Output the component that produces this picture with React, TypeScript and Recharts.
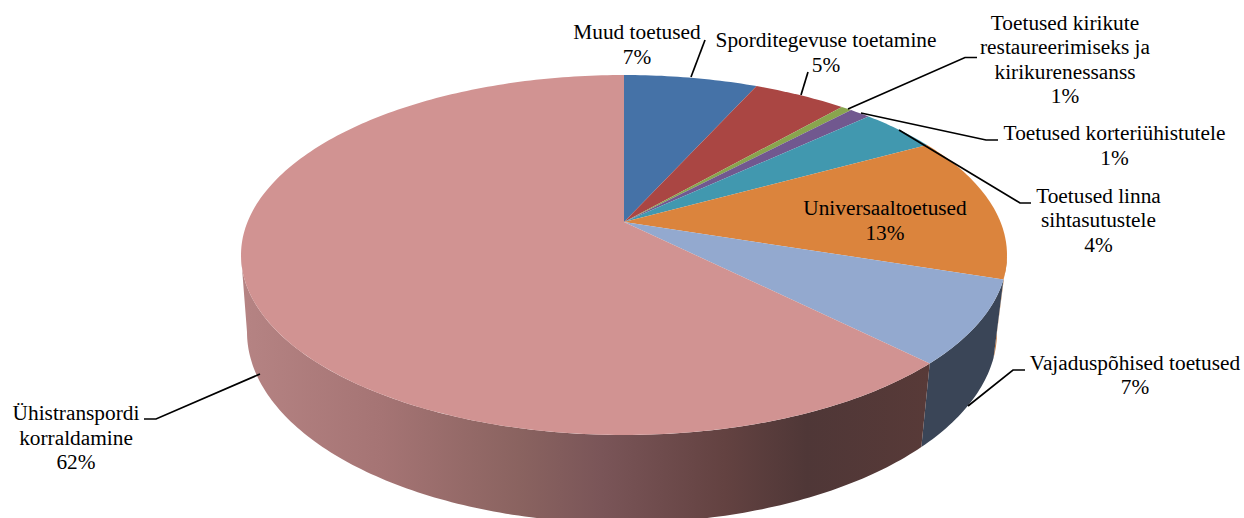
import React from "react";
import { PieChart, Pie } from "recharts";

const categories = [
  "Muud toetused",
  "Sporditegevuse toetamine",
  "Toetused kirikute restaureerimiseks ja kirikurenessanss",
  "Toetused korteriühistutele",
  "Toetused linna sihtasutustele",
  "Universaaltoetused",
  "Vajaduspõhised toetused",
  "Ühistranspordi korraldamine",
];
const shares = [6.74, 4.7, 0.55, 1.05, 3.96, 13.04, 7.47, 62.49];
const topColors = ["#4572A7", "#AA4643", "#89A54E", "#71588F", "#4198AF", "#DB843D", "#93A9CF", "#D19392"];
const sideColors = ["#2b4768", "#6a2c2a", "#566831", "#463759", "#285f6d", "#c2763a", "#3a4557", "url(#sideGradient)"];

const labelLines: string[][] = [
  ["Muud toetused"],
  ["Sporditegevuse toetamine"],
  ["Toetused kirikute", "restaureerimiseks ja", "kirikurenessanss"],
  ["Toetused korteriühistutele"],
  ["Toetused linna", "sihtasutustele"],
  ["Universaaltoetused"],
  ["Vajaduspõhised toetused"],
  ["Ühistranspordi", "korraldamine"],
];

const labelAnchors = [
  { x: 637, y: 39 },
  { x: 826, y: 47 },
  { x: 1065, y: 29.5 },
  { x: 1114.5, y: 140 },
  { x: 1098.5, y: 202.5 },
  { x: 885, y: 215 },
  { x: 1135, y: 369.5 },
  { x: 76, y: 420 },
];
const leaders: ([number, number][] | null)[] = [
  [[691, 77], [705, 40]],
  [[801, 95], [808, 72]],
  [[848, 109], [965, 57.5], [977, 57.5]],
  [[861, 113], [986, 140], [998, 140]],
  [[899, 130], [1020, 203], [1031, 203]],
  null,
  [[968, 406], [1013, 370], [1025, 370]],
  [[260, 374], [156, 419], [144, 419]],
];

const W = 1244;
const H = 518;
const FONT = "'Liberation Serif', 'Times New Roman', serif";
const FONT_SIZE = 21.33;
const P = 0.1833;
const VSCALE = 173.95;
const TOP = { cx: 624, cy: 255, rx: 383, ry: 180 };
const BOTTOM = { cx: 622, cy: 332, rx: 375, ry: 191 };

const topRows = categories.map((name, i) => ({ name, value: shares[i], fill: topColors[i] }));
const sideRows = categories.map((name, i) => ({ name, value: shares[i], fill: sideColors[i] }));

function project(p: any, theta: number): [number, number] {
  const rad = (theta * Math.PI) / 180;
  const u = Math.sin(rad);
  const v = -Math.cos(rad);
  const d = 1 - P * v;
  return [p.cx + (p.outerRadius * u) / d, p.cy + (VSCALE * v) / d];
}

function TopSlice(p: any) {
  const a = 90 - p.startAngle;
  const b = 90 - p.endAngle;
  const steps = Math.max(4, Math.ceil(Math.abs(b - a)));
  let d = `M${p.cx},${p.cy}`;
  for (let i = 0; i <= steps; i++) {
    const [x, y] = project(p, a + ((b - a) * i) / steps);
    d += `L${x.toFixed(2)},${y.toFixed(2)}`;
  }
  return <path d={d + "Z"} fill={p.fill} stroke="none" />;
}

function phiOf(p: any, theta: number) {
  if (theta >= 359.99) return (3 * Math.PI) / 2;
  const [x, y] = project(p, theta);
  let f = Math.atan2((y - TOP.cy) / TOP.ry, (x - TOP.cx) / TOP.rx) + Math.PI / 2;
  f = ((f % (2 * Math.PI)) + 2 * Math.PI) % (2 * Math.PI);
  return f - Math.PI / 2;
}

function SideSlice(p: any) {
  const lo = Math.max(phiOf(p, 90 - p.startAngle), 0);
  const hi = Math.min(phiOf(p, 90 - p.endAngle), Math.PI);
  if (hi <= lo) return null;
  const steps = Math.max(6, Math.ceil(((hi - lo) * 180) / Math.PI));
  const pts: string[] = [];
  for (let i = 0; i <= steps; i++) {
    const f = lo + ((hi - lo) * i) / steps;
    pts.push(`${(TOP.cx + TOP.rx * Math.cos(f)).toFixed(2)},${(TOP.cy + TOP.ry * Math.sin(f)).toFixed(2)}`);
  }
  for (let i = steps; i >= 0; i--) {
    const f = lo + ((hi - lo) * i) / steps;
    pts.push(`${(BOTTOM.cx + BOTTOM.rx * Math.cos(f)).toFixed(2)},${(BOTTOM.cy + BOTTOM.ry * Math.sin(f)).toFixed(2)}`);
  }
  return <polygon points={pts.join(" ")} fill={p.fill} stroke="none" />;
}

function renderLabel(p: any) {
  const i = p.index;
  const at = labelAnchors[i];
  const lines = [...labelLines[i], `${Math.round(shares[i])}%`];
  return (
    <text key={i} x={at.x} y={at.y} textAnchor="middle" fontFamily={FONT} fontSize={FONT_SIZE} fill="#000">
      {lines.map((t, k) => (
        <tspan key={k} x={at.x} y={at.y + k * 24.6}>
          {t}
        </tspan>
      ))}
    </text>
  );
}

function renderLeader(p: any) {
  const pts = leaders[p.index];
  if (!pts) return <g key={p.index} />;
  return (
    <polyline
      key={p.index}
      points={pts.map((q) => q.join(",")).join(" ")}
      fill="none"
      stroke="#000"
      strokeWidth={1.7}
    />
  );
}

export default function App() {
  return (
    <div style={{ position: "absolute", left: 0, top: 0, width: W, height: H, overflow: "hidden", background: "#fff" }}>
      <PieChart width={W} height={H} margin={{ top: 0, right: 0, bottom: 0, left: 0 }}>
        <defs>
          <linearGradient id="sideGradient" gradientUnits="userSpaceOnUse" x1={245} y1={0} x2={930} y2={0}>
            <stop offset="0" stopColor="#b58383" />
            <stop offset="0.2" stopColor="#a57474" />
            <stop offset="0.4" stopColor="#8a6360" />
            <stop offset="0.52" stopColor="#7a5558" />
            <stop offset="0.7" stopColor="#634241" />
            <stop offset="0.82" stopColor="#4f3737" />
            <stop offset="1" stopColor="#583a38" />
          </linearGradient>
        </defs>
        <Pie
          data={sideRows}
          dataKey="value"
          nameKey="name"
          cx={624}
          cy={222}
          outerRadius={376.5}
          startAngle={90}
          endAngle={-270}
          stroke="none"
          isAnimationActive={false}
          shape={SideSlice}
          label={false}
          labelLine={false}
        />
        <Pie
          data={topRows}
          dataKey="value"
          nameKey="name"
          cx={624}
          cy={222}
          outerRadius={376.5}
          startAngle={90}
          endAngle={-270}
          stroke="none"
          isAnimationActive={false}
          shape={TopSlice}
          label={renderLabel}
          labelLine={renderLeader}
        />
      </PieChart>
    </div>
  );
}
